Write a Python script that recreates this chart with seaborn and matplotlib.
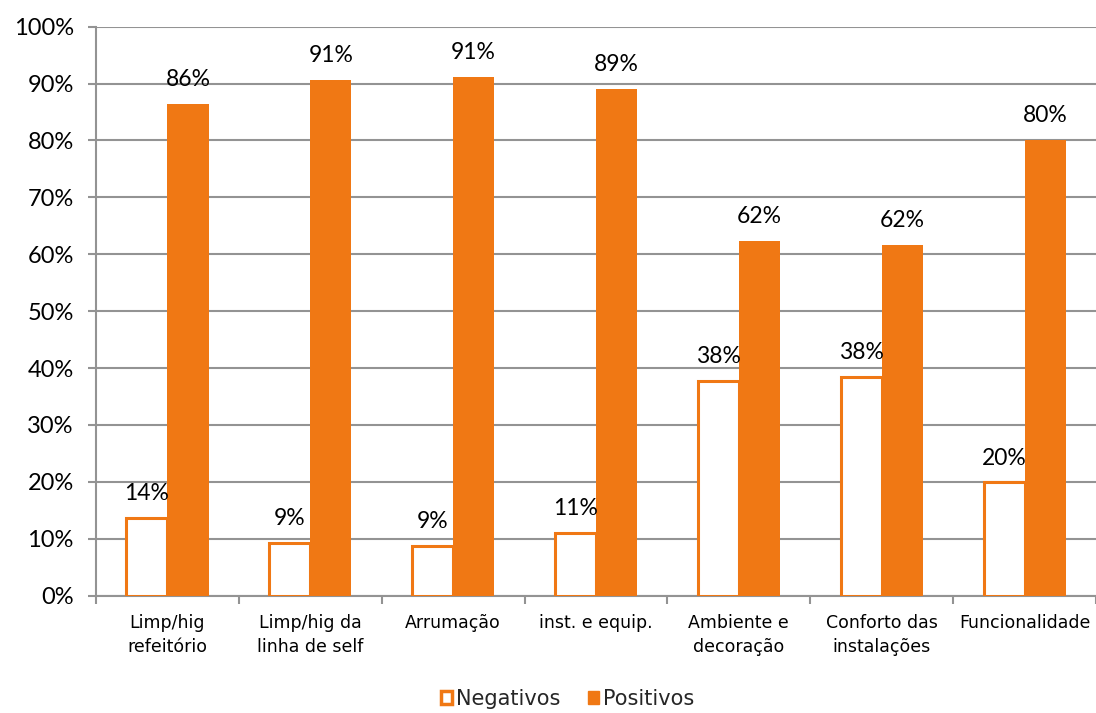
import matplotlib
matplotlib.use("Agg")
import matplotlib.pyplot as plt
import seaborn as sns
import pandas as pd
from matplotlib.patches import Patch
from matplotlib.ticker import FixedLocator

categories = ["Limp/hig\nrefeitório", "Limp/hig da\nlinha de self", "Arrumação",
              "inst. e equip.", "Ambiente e\ndecoração", "Conforto das\ninstalações",
              "Funcionalidade"]
negativos = [13.6, 9.3, 8.8, 11.0, 37.7, 38.4, 19.9]
positivos = [86.4, 90.7, 91.2, 89.0, 62.3, 61.6, 80.1]
series = ["Negativos", "Positivos"]
yticks = [0, 10, 20, 30, 40, 50, 60, 70, 80, 90, 100]

ORANGE = "#F07814"
GRID = "#939393"

df = pd.DataFrame({
    "cat": categories * 2,
    "serie": [series[0]] * len(categories) + [series[1]] * len(categories),
    "val": negativos + positivos,
})

sns.set_theme(style="white")
plt.rcParams["font.family"] = ["DejaVu Sans"]

fig = plt.figure(figsize=(10.96, 7.13), dpi=100)
ax = fig.add_axes([0.0876, 0.1645, 0.9124, 0.7981])

sns.barplot(data=df, x="cat", y="val", hue="serie", hue_order=series,
            palette=[ORANGE, ORANGE], width=0.575, gap=0, saturation=1,
            errorbar=None, legend=False, ax=ax, zorder=3)

neg_c, pos_c = ax.containers[0], ax.containers[1]
for b in neg_c:
    b.set_facecolor("white")
    b.set_edgecolor(ORANGE)
    b.set_linewidth(2.2)
for b in pos_c:
    b.set_edgecolor("none")

for cont, vals in ((neg_c, negativos), (pos_c, positivos)):
    for b, v in zip(cont, vals):
        ax.annotate(f"{v:.0f}%", (b.get_x() + b.get_width() / 2, b.get_height()),
                    xytext=(0, 10), textcoords="offset points",
                    ha="center", va="bottom", fontsize=16.5, family="Lato",
                    color="black", zorder=5)

ax.set_ylim(0, 100)
ax.set_xlim(-0.5, len(categories) - 0.5)
ax.set_yticks(yticks)
ax.set_yticklabels([f"{t}%" for t in yticks], family="Lato", fontsize=17)
ax.yaxis.grid(True, color=GRID, linewidth=1.5)
ax.set_axisbelow(True)
ax.tick_params(axis="y", length=6, width=1.5, color=GRID, left=True, pad=10,
               labelcolor="black")

ax.set_xticks(range(len(categories)))
ax.set_xticklabels(categories, fontsize=12.5, linespacing=1.45)
ax.xaxis.set_minor_locator(FixedLocator([i - 0.5 for i in range(len(categories) + 1)]))
ax.tick_params(axis="x", which="major", length=0, pad=13, labelcolor="black")
ax.tick_params(axis="x", which="minor", length=6, width=1.5, color=GRID, bottom=True)

ax.set_xlabel("")
ax.set_ylabel("")
for s in ["top", "right"]:
    ax.spines[s].set_visible(False)
for s in ["left", "bottom"]:
    ax.spines[s].set_color(GRID)
    ax.spines[s].set_linewidth(1.5)

handles = [Patch(facecolor="white", edgecolor=ORANGE, linewidth=2.5),
           Patch(facecolor=ORANGE, edgecolor=ORANGE)]
fig.legend(handles, series, loc="center", bbox_to_anchor=(0.518, 0.02), ncol=2,
           frameon=False, fontsize=15, handlelength=0.55, handleheight=0.55,
           handletextpad=0.2, columnspacing=1.3)

fig.savefig("out.png", dpi=100)
